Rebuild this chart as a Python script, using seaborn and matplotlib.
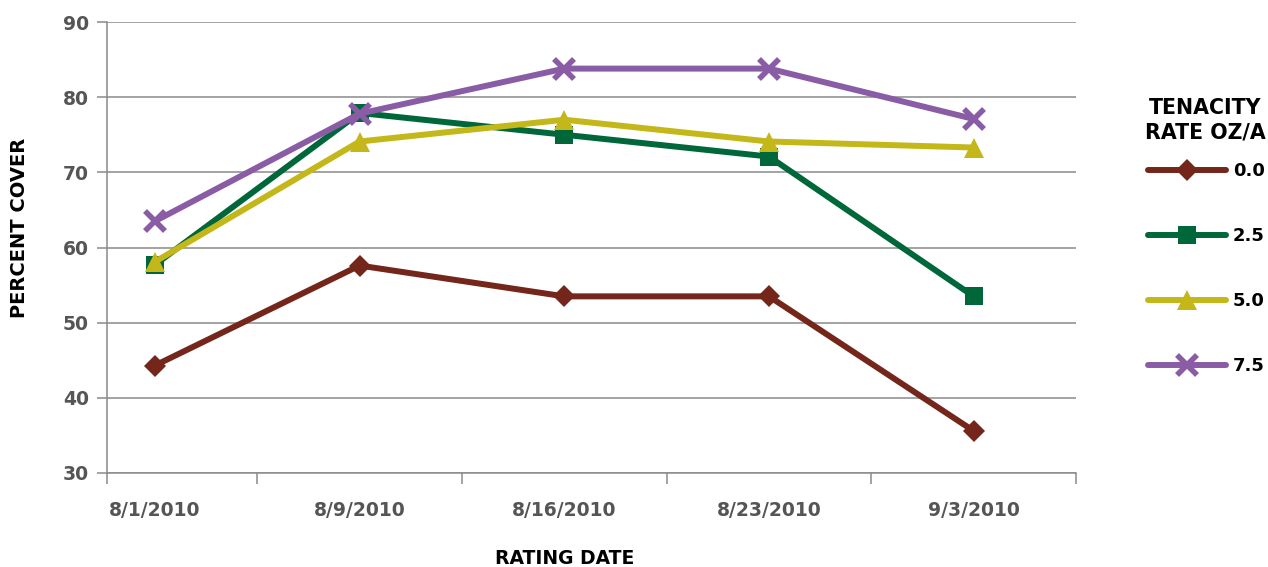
import matplotlib
matplotlib.use("Agg")
import matplotlib.pyplot as plt
import seaborn as sns
import pandas as pd
import numpy as np
from matplotlib.lines import Line2D

dates = ["8/1/2010", "8/9/2010", "8/16/2010", "8/23/2010", "9/3/2010"]
rates = ["0.0", "2.5", "5.0", "7.5"]
cover_00 = [44.3, 57.6, 53.5, 53.5, 35.6]
cover_25 = [57.7, 77.9, 75.0, 72.1, 53.5]
cover_50 = [58.1, 74.1, 77.0, 74.1, 73.3]
cover_75 = [63.5, 77.8, 83.8, 83.8, 77.1]

colors = ["#74261B", "#00673A", "#C4B719", "#8A5CA6"]
markers = ["D", "s", "^", "x"]
msizes = [11, 13, 14, 14]

sns.set_theme(style="white")
plt.rcParams["font.family"] = ["DejaVu Sans"]

fig = plt.figure(figsize=(12.68, 5.67), dpi=100)
ax = fig.add_axes([107/1268, 1-473/567, (1076-107)/1268, (473-22)/567])

series = [cover_00, cover_25, cover_50, cover_75]
for rate, vals, c, m, ms in zip(rates, series, colors, markers, msizes):
    df = pd.DataFrame({"x": np.arange(len(dates)), "y": vals})
    sns.lineplot(data=df, x="x", y="y", ax=ax, color=c, linewidth=4.3,
                 marker=m, markersize=ms,
                 markeredgewidth=(4 if m == "x" else 0),
                 markeredgecolor=c, markerfacecolor=c, label=None, legend=False)

ax.set_ylim(30, 90)
ax.set_xlim(-0.234, 4.5)
ax.set_yticks(range(30, 91, 10))
ax.yaxis.grid(True, color="#8a8a8a", linewidth=1.1)
ax.set_axisbelow(True)
for s in ["top", "right"]:
    ax.spines[s].set_visible(False)
for s in ["left", "bottom"]:
    ax.spines[s].set_color("#8a8a8a")
    ax.spines[s].set_linewidth(1.1)

ax.set_xticks(np.arange(len(dates)))
ax.set_xticklabels(dates)
ax.set_xticks([-0.234, 0.5, 1.5, 2.5, 3.5, 4.5], minor=True)
ax.tick_params(axis="x", which="major", length=0, pad=20, labelsize=13.5,
               labelcolor="#555555")
ax.tick_params(axis="x", which="minor", length=8, width=1.1, color="#8a8a8a",
               direction="out", bottom=True)
ax.tick_params(axis="y", which="major", length=7, width=1.1, color="#8a8a8a",
               direction="out", left=True, labelsize=13.5, labelcolor="#555555", pad=6)
for lab in ax.get_xticklabels() + ax.get_yticklabels():
    lab.set_fontweight("bold")

ax.set_ylabel("PERCENT COVER", fontsize=14, fontweight="bold", color="black")
ax.yaxis.set_label_coords(-(107-29)/969, (473-228)/451)
ax.set_xlabel("")
fig.text(565/1268, 1-559/567, "RATING DATE", fontsize=13.5, fontweight="bold",
         color="black", ha="center", va="center")

handles = [Line2D([0], [0], color=c, linewidth=4.3, marker=m, markersize=ms,
                  markeredgewidth=(4 if m == "x" else 0), markeredgecolor=c,
                  markerfacecolor=c)
           for c, m, ms in zip(colors, markers, msizes)]
fig.text(1205/1268, 1-120/567, "TENACITY\nRATE OZ/A", fontsize=14.8,
         fontweight="bold", color="black", ha="center", va="center",
         multialignment="center", linespacing=1.3)
leg = fig.legend(handles, rates, loc="upper left", bbox_to_anchor=(1148/1268, 1-162/567),
                 frameon=False,
                 prop={"weight": "bold", "size": 13},
                 handlelength=4.3, handletextpad=0.4, labelspacing=2.6,
                 borderaxespad=0, borderpad=0, labelcolor="black")

fig.savefig("out.png", dpi=100)
